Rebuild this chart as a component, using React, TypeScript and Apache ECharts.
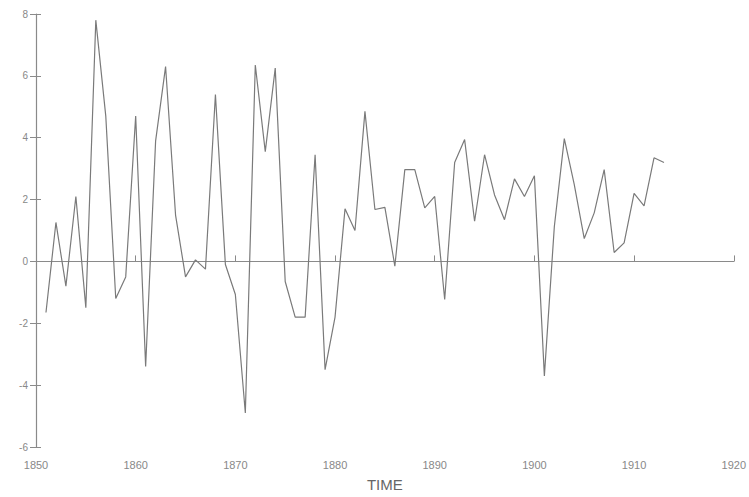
import React, { useEffect, useRef } from "react";
import * as echarts from "echarts";

const years: number[] = [
  1851, 1852, 1853, 1854, 1855, 1856, 1857, 1858, 1859, 1860,
  1861, 1862, 1863, 1864, 1865, 1866, 1867, 1868, 1869, 1870,
  1871, 1872, 1873, 1874, 1875, 1876, 1877, 1878, 1879, 1880,
  1881, 1882, 1883, 1884, 1885, 1886, 1887, 1888, 1889, 1890,
  1891, 1892, 1893, 1894, 1895, 1896, 1897, 1898, 1899, 1900,
  1901, 1902, 1903, 1904, 1905, 1906, 1907, 1908, 1909, 1910,
  1911, 1912, 1913,
];

const values: number[] = [
  -1.65, 1.26, -0.8, 2.1, -1.5, 7.8, 4.7, -1.2, -0.5, 4.7,
  -3.4, 3.9, 6.3, 1.5, -0.5, 0.05, -0.25, 5.4, -0.1, -1.07,
  -4.9, 6.35, 3.55, 6.25, -0.65, -1.8, -1.8, 3.45, -3.5, -1.8,
  1.7, 1.0, 4.85, 1.68, 1.75, -0.15, 2.97, 2.97, 1.73, 2.1,
  -1.23, 3.2, 3.94, 1.3, 3.45, 2.15, 1.35, 2.67, 2.1, 2.77,
  -3.7, 1.13, 3.97, 2.48, 0.74, 1.57, 2.97, 0.29, 0.6, 2.2,
  1.8, 3.35, 3.2,
];

const xMin = 1850;
const xMax = 1920;
const xStep = 10;
const yMin = -6;
const yMax = 8;
const yStep = 2;
const xTitle = "TIME";

export default function App() {
  const ref = useRef<HTMLDivElement>(null);
  useEffect(() => {
    if (!ref.current) return;
    const chart = echarts.init(ref.current, null, { renderer: "svg" });
    const font = "'Liberation Sans', Arial, sans-serif";
    const axisGray = "#8a8a8a";
    chart.setOption({
      animation: false,
      backgroundColor: "#ffffff",
      grid: { left: 36, right: 10, top: 14, bottom: 49 },
      xAxis: [
        {
          type: "value",
          min: xMin,
          max: xMax,
          interval: xStep,
          axisLine: { show: true, onZero: true, lineStyle: { color: axisGray, width: 1.2 } },
          axisTick: { show: true, inside: true, length: 6, lineStyle: { color: axisGray } },
          axisLabel: { show: false },
          splitLine: { show: false },
        },
        {
          type: "value",
          position: "bottom",
          min: xMin,
          max: xMax,
          interval: xStep,
          axisLine: { show: false, onZero: false },
          axisTick: { show: false },
          axisLabel: {
            show: true,
            margin: 12,
            color: "#888",
            fontSize: 11,
            fontFamily: font,
            formatter: (v: number) => String(v),
          },
          splitLine: { show: false },
          name: xTitle,
          nameLocation: "middle",
          nameGap: 30,
          nameTextStyle: { color: "#666", fontSize: 15, fontFamily: font },
        },
      ],
      yAxis: [
        {
          type: "value",
          min: yMin,
          max: yMax,
          interval: yStep,
          axisLine: { show: true, onZero: false, lineStyle: { color: axisGray, width: 1.2 } },
          axisTick: { show: true, length: 6, lineStyle: { color: axisGray } },
          axisLabel: { color: "#888", fontSize: 10, fontFamily: font, margin: 8 },
          splitLine: { show: false },
        },
        {
          type: "value",
          position: "left",
          min: yMin,
          max: yMax,
          interval: yStep,
          axisLine: { show: false, onZero: false },
          axisTick: { show: true, inside: true, length: 5, lineStyle: { color: axisGray } },
          axisLabel: { show: false },
          splitLine: { show: false },
        },
      ],
      series: [
        {
          type: "line",
          xAxisIndex: 0,
          yAxisIndex: 0,
          data: years.map((y, i) => [y, values[i]]),
          showSymbol: false,
          symbol: "none",
          lineStyle: { color: "#7a7a7a", width: 1.2 },
        },
      ],
    });
    return () => chart.dispose();
  }, []);
  return <div ref={ref} style={{ width: 749, height: 497, position: "absolute", left: 0, top: 0 }} />;
}
